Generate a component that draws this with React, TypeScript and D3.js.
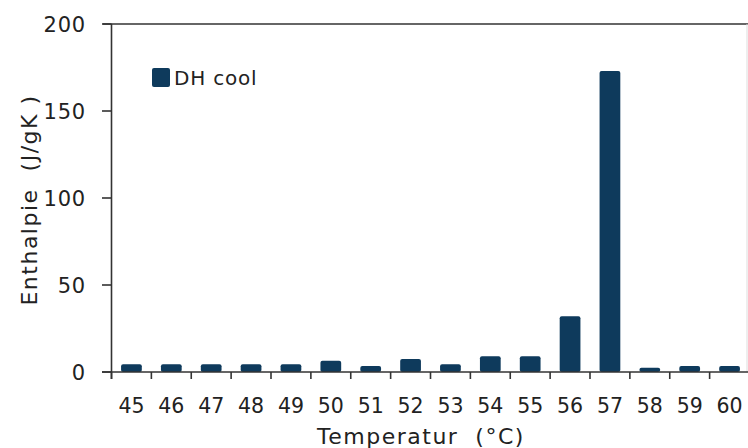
import * as React from "react";
import * as d3 from "d3";

const temps = ["45", "46", "47", "48", "49", "50", "51", "52", "53", "54", "55", "56", "57", "58", "59", "60"];
const dhCool = [4.5, 4.5, 4.5, 4.5, 4.5, 6.5, 3.5, 7.5, 4.5, 9, 9, 32, 173, 2.5, 3.5, 3.5];
const yTicks = [0, 50, 100, 150, 200];

const barColor = "#0e3a5c";
const axisColor = "#333";
const font = "'DejaVu Sans', sans-serif";

export default function App() {
    const width = 748;
    const height = 448;
    const left = 111.5;
    const right = 749.5;
    const top = 24;
    const bottom = 372;

    const x = d3.scaleBand().domain(temps).range([left, right]).paddingInner(0.48).paddingOuter(0.24);
    const xb = d3.scaleBand().domain(temps).range([left, right]);
    const y = d3.scaleLinear().domain([0, 200]).range([bottom, top]);

    return (
        <svg width={width} height={height} style={{position: "absolute", left: 0, top: 0, background: "#fff"}}
             fontFamily={font}>
            {/* top border + right border */}
            <line x1={103} x2={right} y1={top} y2={top} stroke={axisColor} strokeWidth={1.6}/>
            <line x1={747} x2={747} y1={top} y2={bottom} stroke="#ddd" strokeWidth={1}/>

            {dhCool.map((v, i) => (
                <rect key={temps[i]} x={x(temps[i])} width={x.bandwidth()}
                      y={y(v)} height={bottom - y(v)} rx={2} fill={barColor}/>
            ))}

            {/* y axis */}
            <line x1={left} x2={left} y1={top} y2={bottom + 7} stroke={axisColor} strokeWidth={1.6}/>
            {yTicks.map(t => (
                <g key={t}>
                    <line x1={102} x2={left} y1={y(t)} y2={y(t)} stroke={axisColor} strokeWidth={1.6}/>
                    <text x={86} y={y(t)} dy="0.36em" textAnchor="end" fontSize={21} letterSpacing={0.8}
                          fill="#222">{t}</text>
                </g>
            ))}

            {/* x axis */}
            <line x1={102} x2={right} y1={bottom} y2={bottom} stroke={axisColor} strokeWidth={1.6}/>
            {temps.map(t => (
                <g key={t}>
                    <line x1={xb(t)} x2={xb(t)} y1={bottom} y2={bottom + 7} stroke={axisColor} strokeWidth={1.6}/>
                    <text x={xb(t) + xb.bandwidth() / 2} y={406} dy="0.36em" textAnchor="middle" fontSize={20.5}
                          fill="#222">{t}</text>
                </g>
            ))}

            <text x={421} y={436} dy="0.36em" textAnchor="middle" fontSize={22} letterSpacing={1.5} fill="#222"
                  style={{whiteSpace: "pre"}}>{"Temperatur  (°C)"}</text>
            <text transform={`translate(29,${(top + bottom) / 2 + 2}) rotate(-90)`} dy="0.36em" textAnchor="middle"
                  fontSize={22} letterSpacing={1.5} fill="#222"
                  style={{whiteSpace: "pre"}}>{"Enthalpie  (J/gK )"}</text>

            {/* legend */}
            <rect x={152} y={68} width={18} height={19} rx={2} fill={barColor}/>
            <text x={174} y={77.5} dy="0.36em" fontSize={20} letterSpacing={0.8} fill="#222">DH cool</text>
        </svg>
    );
}
